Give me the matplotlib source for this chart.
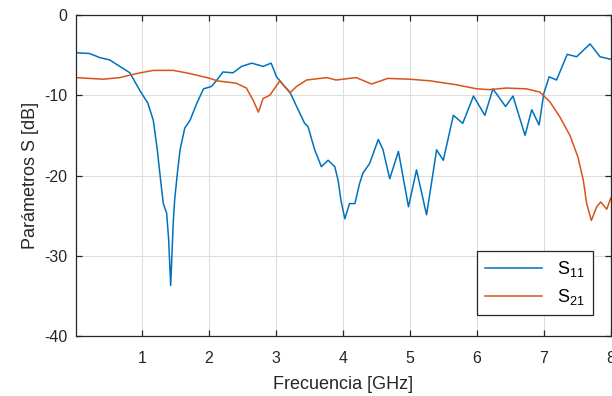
import matplotlib.pyplot as plt

plt.rcParams['font.family'] = ['Liberation Sans', 'DejaVu Sans']
plt.rcParams['axes.unicode_minus'] = False

# S11 (reflexión)
f_s11 = [0.015, 0.22, 0.37, 0.52, 0.67, 0.82, 0.97, 1.09, 1.17, 1.23, 1.28, 1.32,
         1.37, 1.40, 1.43, 1.47, 1.49, 1.53, 1.57, 1.64, 1.72, 1.82, 1.92, 2.04,
         2.12, 2.21, 2.36, 2.49, 2.64, 2.81, 2.93, 3.01, 3.11, 3.21, 3.31, 3.43,
         3.48, 3.58, 3.68, 3.78, 3.88, 3.93, 3.97, 4.03, 4.10, 4.18, 4.25, 4.30,
         4.40, 4.53, 4.60, 4.70, 4.83, 4.98, 5.10, 5.25, 5.40, 5.50, 5.65, 5.79,
         5.95, 6.12, 6.24, 6.43, 6.54, 6.72, 6.82, 6.93, 7.00, 7.08, 7.19, 7.35,
         7.49, 7.69, 7.84, 7.99]
s11 = [-4.7, -4.8, -5.3, -5.6, -6.4, -7.2, -9.4, -11.0, -13.1, -16.8, -20.6, -23.5,
       -24.7, -28.0, -33.7, -25.6, -23.0, -19.7, -16.8, -14.1, -13.1, -11.0, -9.2, -8.9,
       -8.1, -7.1, -7.2, -6.4, -6.0, -6.4, -6.0, -7.7, -8.7, -9.6, -11.4, -13.5,
       -13.9, -16.8, -18.9, -18.1, -18.9, -20.6, -23.0, -25.4, -23.5, -23.5, -21.0, -19.7,
       -18.5, -15.5, -16.8, -20.4, -17.0, -23.9, -19.3, -24.9, -16.8, -18.1, -12.5, -13.5,
       -10.1, -12.5, -9.2, -11.4, -10.1, -15.0, -11.8, -13.7, -9.8, -7.7, -8.1, -4.9,
       -5.2, -3.6, -5.2, -5.5]

# S21 (transmisión)
f_s21 = [0.015, 0.42, 0.67, 0.92, 1.17, 1.47, 1.72, 2.02, 2.12, 2.41, 2.56, 2.66,
         2.74, 2.81, 2.91, 3.06, 3.21, 3.31, 3.46, 3.76, 3.90, 4.20, 4.43, 4.67,
         5.00, 5.30, 5.70, 6.00, 6.19, 6.44, 6.74, 6.94, 7.09, 7.24, 7.39, 7.51,
         7.59, 7.64, 7.71, 7.79, 7.85, 7.94, 8.00]
s21 = [-7.8, -8.0, -7.8, -7.3, -6.9, -6.9, -7.3, -7.9, -8.2, -8.5, -9.1, -10.6,
       -12.1, -10.4, -10.0, -8.2, -9.7, -8.9, -8.1, -7.8, -8.1, -7.8, -8.6, -7.9,
       -8.0, -8.2, -8.7, -9.2, -9.3, -9.1, -9.2, -9.6, -10.8, -12.7, -15.0, -17.7,
       -20.6, -23.5, -25.6, -23.9, -23.3, -24.2, -22.8]

x_ticks = [1, 2, 3, 4, 5, 6, 7, 8]
y_ticks = [-40, -30, -20, -10, 0]

fig = plt.figure(figsize=(6.12, 3.96), dpi=100)
ax = fig.add_axes([0.124, 0.1515, 0.874, 0.8106])

ax.plot(f_s11, s11, color='#0072BD', lw=1.1, label=r'S$_{\mathregular{11}}$')
ax.plot(f_s21, s21, color='#D95319', lw=1.1, label=r'S$_{\mathregular{21}}$')

ax.set_xlim(0.015, 8)
ax.set_ylim(-40, 0)
ax.set_xticks(x_ticks)
ax.set_yticks(y_ticks)
ax.grid(True, color='#dedede', lw=0.8)
ax.set_axisbelow(True)

for sp in ax.spines.values():
    sp.set_color('#262626')
    sp.set_linewidth(0.9)
ax.tick_params(direction='in', top=True, right=True, length=4,
               colors='#262626', labelsize=11.5, width=0.9)
ax.tick_params(axis='x', pad=11)
ax.tick_params(axis='y', pad=6)

ax.set_xlabel('Frecuencia [GHz]', fontsize=13, color='#262626', labelpad=7)
ax.set_ylabel('Parámetros S [dB]', fontsize=13, color='#262626')

leg = ax.legend(loc='lower right', bbox_to_anchor=(0.966, 0.065), borderaxespad=0,
                fontsize=13, fancybox=False, framealpha=1, edgecolor='#262626',
                handlelength=3.2, borderpad=0.45, labelspacing=0.45)
leg.get_frame().set_linewidth(0.9)

fig.savefig('out.png', dpi=100)
